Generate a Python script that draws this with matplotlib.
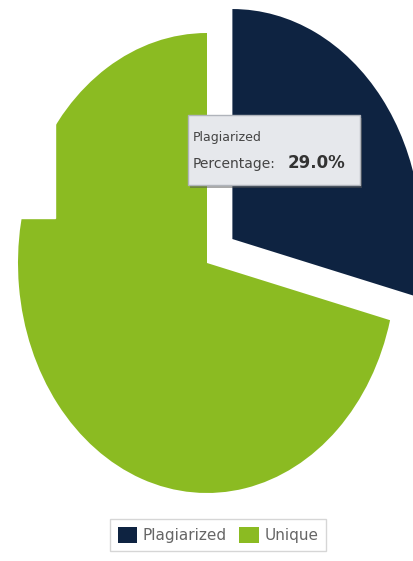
import matplotlib.pyplot as plt
from matplotlib.patches import Rectangle

# pie data
labels = ["Plagiarized", "Unique"]
values = [29.0, 71.0]
colors = ["#0e2341", "#8bbb22"]
explode = [0.17, 0.0]

W, H = 414, 561
fig = plt.figure(figsize=(W / 100, H / 100), dpi=100)
ax = fig.add_axes([0, 0, 1, 1])
ax.axis("off")

wedges, _ = ax.pie(values, colors=colors, explode=explode, startangle=90,
                   counterclock=False, radius=1.0)
for w in wedges:
    w.set_clip_on(False)

# pie is squeezed: 189 px wide per unit, 230 px tall per unit, centre at (207, 263)
cx, cy, sx, sy = 207, 263, 189, 230
ax.set_aspect("auto")
ax.set_xlim(-cx / sx, (W - cx) / sx)
ax.set_ylim(-(H - cy) / sy, cy / sy)

# white block that cuts the top-left of the pie
fig.patches.append(Rectangle((0, 1 - 218 / H), 55 / W, 218 / H,
                             transform=fig.transFigure, color="white", zorder=5))

# tooltip
x0, y0, x1, y1 = 188, 115, 360, 185
fig.patches.append(Rectangle((x0 / W + 0.004, 1 - (y1 + 3) / H), (x1 - x0) / W, (y1 - y0) / H,
                             transform=fig.transFigure, facecolor="#555555", alpha=0.5,
                             edgecolor="none", zorder=6))
fig.patches.append(Rectangle((x0 / W, 1 - y1 / H), (x1 - x0) / W, (y1 - y0) / H,
                             transform=fig.transFigure, facecolor="#e6e8ec",
                             edgecolor="#b0b4bb", linewidth=1, zorder=7))
fig.text(193 / W, 1 - 138 / H, "Plagiarized", fontsize=9, color="#444444",
         va="center", ha="left", zorder=8)
fig.text(193 / W, 1 - 164 / H, "Percentage:", fontsize=10, color="#444444",
         va="center", ha="left", zorder=8)
fig.text(288 / W, 1 - 163 / H, "29.0%", fontsize=12, color="#333333",
         fontweight="bold", va="center", ha="left", zorder=8)

# legend
handles = [Rectangle((0, 0), 1, 1, facecolor=c, edgecolor="none") for c in colors]
leg = fig.legend(handles, labels, loc="center", bbox_to_anchor=(218 / W, 1 - 535 / H),
                 ncol=2, frameon=True, fontsize=11, handlelength=1.3, handleheight=1.3,
                 handletextpad=0.35, columnspacing=0.8, borderpad=0.5, fancybox=False)
leg.get_frame().set_edgecolor("#cccccc")
leg.get_frame().set_linewidth(1)
for txt in leg.get_texts():
    txt.set_color("#666666")

fig.savefig("out.png", dpi=100, facecolor="white")
